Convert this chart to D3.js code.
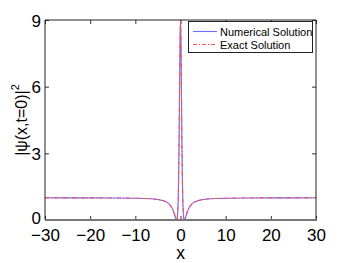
<!DOCTYPE html>
<html><head><meta charset="utf-8">
<script src="https://cdn.jsdelivr.net/npm/d3@7"></script>
<style>body{margin:0;background:#fff}svg{display:block}text{font-family:"Liberation Sans",Arial,sans-serif}</style>
</head><body>
<svg id="c" width="350" height="263"></svg>
<script>
const xs = [-30,-25,-20,-15,-10,-8,-6,-5,-4,-3,-2.5,-2,-1.5,-1.2,-1,-0.9,-0.866,-0.8,-0.7,-0.6,-0.5,-0.4,-0.3,-0.2,-0.1,0,0.1,0.2,0.3,0.4,0.5,0.6,0.7,0.8,0.866,0.9,1,1.2,1.5,2,2.5,3,4,5,6,8,10,15,20,25,30];
const numerical = [0.998,0.997,0.995,0.991,0.980,0.969,0.946,0.922,0.881,0.795,0.716,0.585,0.36,0.167,0.04,0.003,0,0.015,0.12,0.41,1.0,2.07,3.77,5.99,8.10,9.0,8.10,5.99,3.77,2.07,1.0,0.41,0.12,0.015,0,0.003,0.04,0.167,0.36,0.585,0.716,0.795,0.881,0.922,0.946,0.969,0.980,0.991,0.995,0.997,0.998];
const exact = [0.998,0.997,0.995,0.991,0.980,0.969,0.946,0.922,0.881,0.795,0.716,0.585,0.36,0.167,0.04,0.003,0,0.015,0.12,0.41,1.0,2.07,3.77,5.99,8.10,9.0,8.10,5.99,3.77,2.07,1.0,0.41,0.12,0.015,0,0.003,0.04,0.167,0.36,0.585,0.716,0.795,0.881,0.922,0.946,0.969,0.980,0.991,0.995,0.997,0.998];
const xTicks = [-30,-20,-10,0,10,20,30];
const yTicks = [0,3,6,9];
const seriesNames = ["Numerical Solution","Exact Solution"];

const svg = d3.select("#c");
const L=45,R=316,T=20,B=220;
const x = d3.scaleLinear().domain([-30,30]).range([L,R]);
const y = d3.scaleLinear().domain([0,9]).range([B,T]);

const gx = svg.append("g").attr("transform",`translate(0,${B})`)
  .call(d3.axisBottom(x).tickValues(xTicks).tickSize(-4).tickPadding(8.5).tickFormat(d=>d<0?"\u2212"+(-d):d));
const gy = svg.append("g").attr("transform",`translate(${L},0)`)
  .call(d3.axisLeft(y).tickValues(yTicks).tickSize(-4).tickPadding(4));
[gx,gy].forEach(g=>{g.select(".domain").remove();g.selectAll("line").attr("stroke","#333");g.selectAll("text").attr("font-size",17).attr("fill","#000");});
gy.selectAll("text").attr("dy",d=>d===0?"0.2em":"0.36em");
svg.append("g").attr("transform",`translate(0,${T})`).call(d3.axisTop(x).tickValues(xTicks).tickSize(-4).tickFormat(""))
  .call(g=>{g.select(".domain").remove();g.selectAll("line").attr("stroke","#333");});
svg.append("g").attr("transform",`translate(${R},0)`).call(d3.axisRight(y).tickValues(yTicks).tickSize(-4).tickFormat(""))
  .call(g=>{g.select(".domain").remove();g.selectAll("line").attr("stroke","#333");});

const line = d3.line().x((d,i)=>x(xs[i])).y(d=>y(d)).curve(d3.curveMonotoneX);
svg.append("clipPath").attr("id","clp").append("rect").attr("x",L).attr("y",T-1).attr("width",R-L).attr("height",B-T+1);
svg.append("path").datum(numerical).attr("d",line).attr("fill","none").attr("stroke","#6b6bff").attr("stroke-width",1.1).attr("clip-path","url(#clp)");
svg.append("path").datum(exact).attr("d",line).attr("fill","none").attr("stroke","#ff5050").attr("stroke-width",1.1).attr("stroke-dasharray","4,2,1,2").attr("clip-path","url(#clp)");

svg.append("line").attr("x1",L).attr("x2",R).attr("y1",T).attr("y2",T).attr("stroke","#222");
svg.append("line").attr("x1",L).attr("x2",L).attr("y1",T).attr("y2",B).attr("stroke","#222");
svg.append("line").attr("x1",R).attr("x2",R).attr("y1",T).attr("y2",B).attr("stroke","#222");
svg.append("line").attr("x1",L).attr("x2",R+1).attr("y1",B).attr("y2",B).attr("stroke","#777").attr("stroke-width",2);

const lg = svg.append("g");
lg.append("rect").attr("x",188.5).attr("y",21.5).attr("width",124).attr("height",31).attr("fill","#fff").attr("stroke","#222");
const lc = ["#6b6bff","#ff5050"], ld=[null,"4,2,1,2"];
seriesNames.forEach((n,i)=>{
  const yy = 31.5+i*13;
  lg.append("line").attr("x1",193).attr("x2",217).attr("y1",yy).attr("y2",yy).attr("stroke",lc[i]).attr("stroke-width",1.1).attr("stroke-dasharray",ld[i]);
  lg.append("text").attr("x",220).attr("y",yy+4).attr("font-size",11).text(n);
});

svg.append("text").attr("x",(L+R)/2).attr("y",259).attr("text-anchor","middle").attr("font-size",17.5).text("x");
svg.append("text").attr("transform","translate(27,120) rotate(-90)").attr("text-anchor","middle").attr("font-size",16)
  .text("|\u03C8(x,t=0)|").append("tspan").attr("font-size",11).attr("dy",-8).text("2");
</script>
</body></html>
